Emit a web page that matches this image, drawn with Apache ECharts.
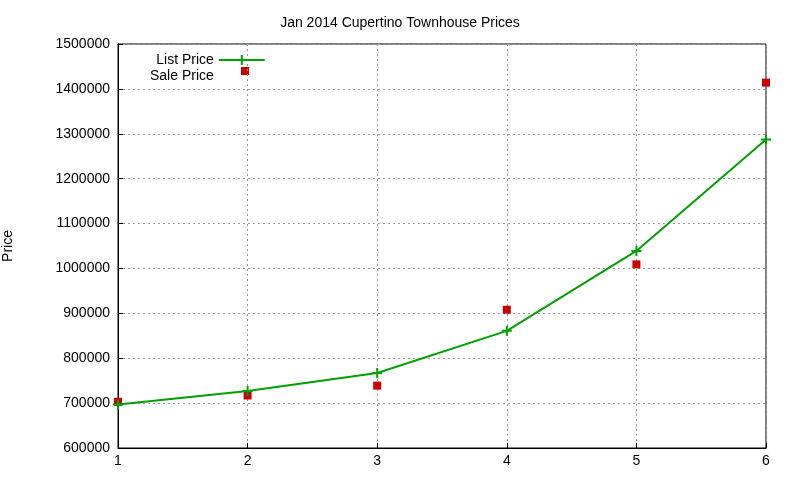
<!DOCTYPE html><html><head><meta charset="utf-8">
<script src="https://cdn.jsdelivr.net/npm/echarts@6/dist/echarts.min.js"></script>
<style>html,body{margin:0;padding:0;background:#fff}#c{width:800px;height:480px}</style></head><body><div id="c"></div>
<script>
const months = [1, 2, 3, 4, 5, 6];
const listPrice = [697000, 727000, 767000, 861000, 1039000, 1287000];
const salePrice = [703000, 717000, 739000, 908000, 1009000, 1414000];
const chart = echarts.init(document.getElementById('c'));
const font = 'Liberation Sans';
chart.setOption({
  animation: false,
  title: {text: 'Jan 2014 Cupertino Townhouse Prices', left: 'center', top: 11,
    textStyle: {fontFamily: font, fontSize: 14, fontWeight: 'normal', color: '#000'}},
  grid: {left: 118, right: 34, top: 44, bottom: 32, show: true, borderColor: '#000', borderWidth: 1,
    containLabel: false, outerBoundsMode: 'none'},
  legend: {left: 145, top: 48, orient: 'vertical', align: 'right', itemGap: 2, itemWidth: 46, itemHeight: 12,
    textStyle: {fontFamily: font, fontSize: 14, color: '#000'},
    data: [{name: 'List Price', icon: 'path://M0,5 L46,5 L46,7 L0,7 Z M22,1 L24,1 L24,11 L22,11 Z'},
           {name: 'Sale Price', icon: 'path://M0,0 L46,0 L46,12 L0,12 Z M19,2 L27,2 L27,10 L19,10 Z',
            itemStyle: {color: 'rgba(0,0,0,0)'}}]},
  graphic: [{type: 'rect', shape: {x: 241, y: 67, width: 8, height: 8}, style: {fill: '#cc0000'}}],
  xAxis: {type: 'value', min: 1, max: 6, interval: 1,
    axisLine: {lineStyle: {color: '#000'}}, axisTick: {inside: true, lineStyle: {color: '#000'}},
    axisLabel: {fontFamily: font, fontSize: 14, color: '#000', margin: 6},
    splitLine: {lineStyle: {color: '#999', type: [2, 3]}}},
  yAxis: {type: 'value', min: 600000, max: 1500000, interval: 100000, name: 'Price', nameLocation: 'middle', nameGap: 103,
    nameTextStyle: {fontFamily: font, fontSize: 14, color: '#000'},
    axisLine: {show: true, lineStyle: {color: '#000'}}, axisTick: {inside: true, lineStyle: {color: '#000'}},
    axisLabel: {fontFamily: font, fontSize: 14, color: '#000', margin: 8, formatter: v => String(v)},
    splitLine: {lineStyle: {color: '#999', type: [2, 3]}}},
  series: [
    {name: 'List Price', type: 'line', data: months.map((m, i) => [m, listPrice[i]]),
      lineStyle: {color: '#00a000', width: 2}, itemStyle: {color: '#00a000'},
      symbol: 'path://M4,0 L6,0 L6,4 L10,4 L10,6 L6,6 L6,10 L4,10 L4,6 L0,6 L0,4 L4,4 Z', symbolSize: 10},
    {name: 'Sale Price', type: 'scatter', data: months.map((m, i) => [m, salePrice[i]]),
      itemStyle: {color: '#cc0000', opacity: 1}, symbol: 'rect', symbolSize: 8}
  ]
});
</script></body></html>
